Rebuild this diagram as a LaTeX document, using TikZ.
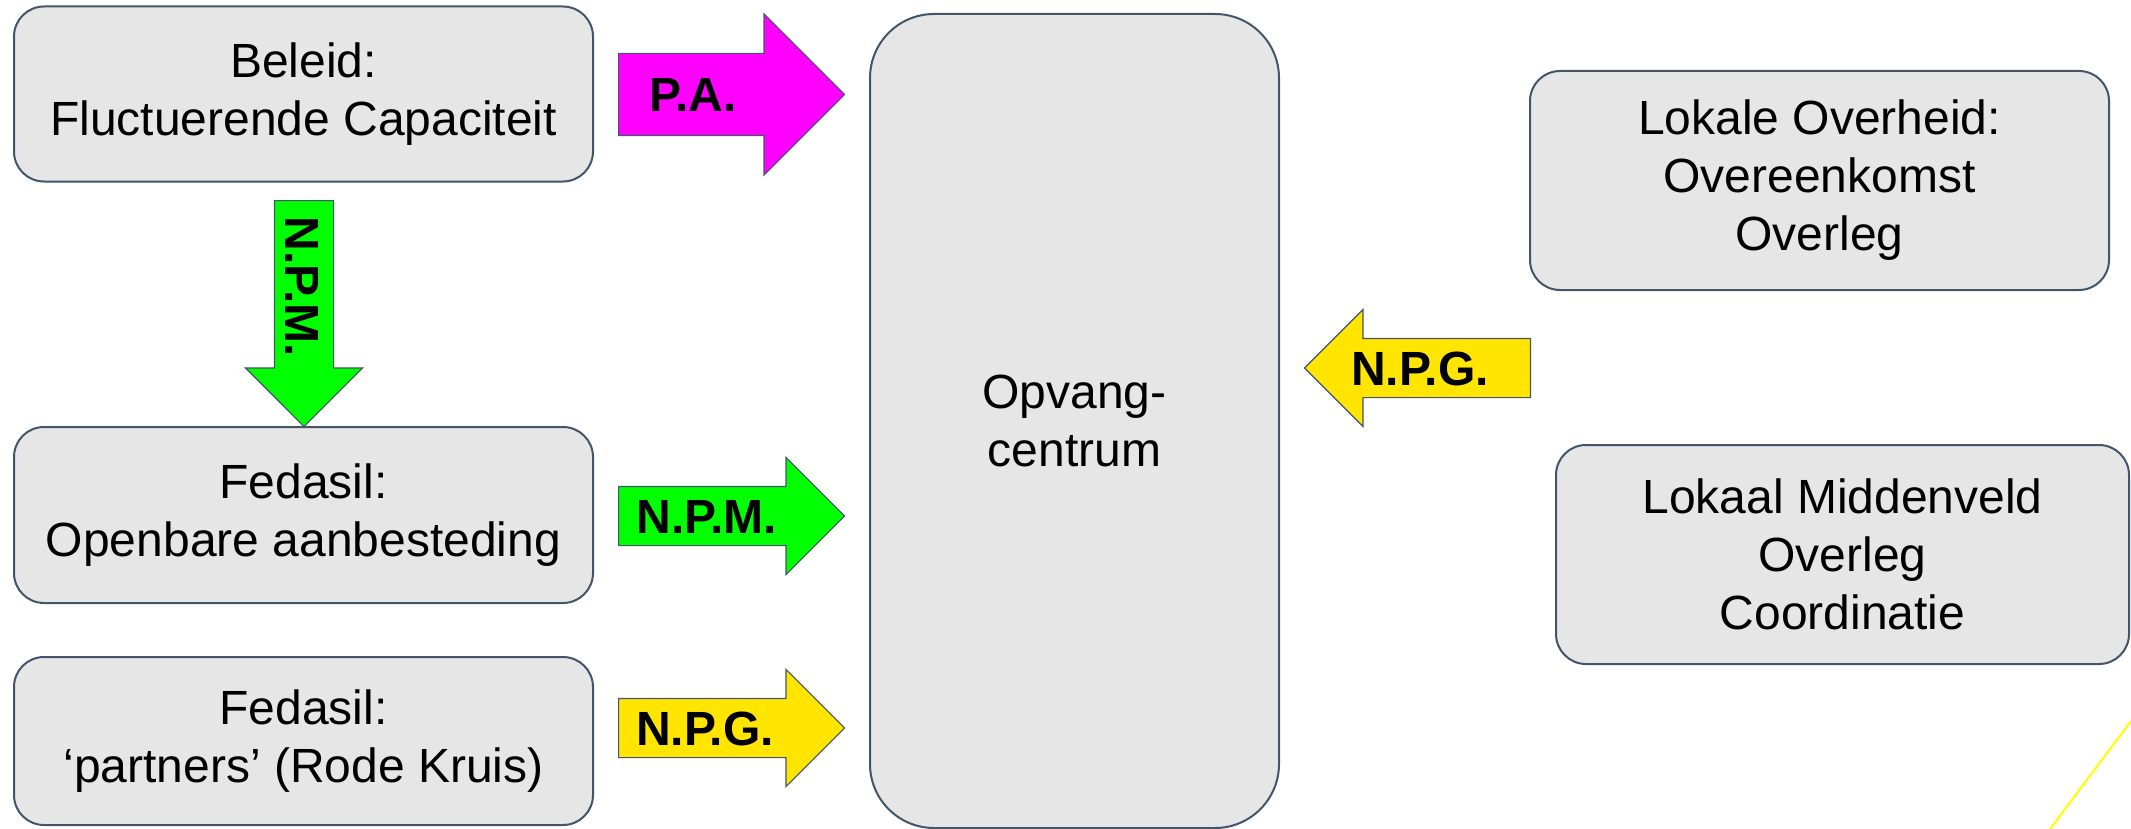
\documentclass[tikz,border=0pt]{standalone}
\usepackage{fontspec}
\setmainfont{Liberation Sans}
\usetikzlibrary{shapes.arrows,positioning}

\definecolor{boxfill}{HTML}{E6E6E6}
\definecolor{boxline}{HTML}{44546A}
\definecolor{pamagenta}{HTML}{FF00FF}
\definecolor{npmgreen}{HTML}{00FF00}
\definecolor{npgyellow}{HTML}{FFE500}
\definecolor{slideline}{HTML}{FFFF00}

\tikzset{
	infobox/.style={rectangle, rounded corners=15pt, draw=boxline, line width=1pt, fill=boxfill, align=center, inner sep=0pt, minimum width=289.5pt, font=\fontsize{24}{29}\selectfont},
	blockarrow/.style={single arrow, draw=boxline, line width=0.6pt, single arrow tip angle=90, minimum height=113pt, single arrow head extend=14.5pt, anchor=tail, inner sep=0pt, text height=29pt, text depth=0pt, text width=84.5pt},
	arrowlabel/.style={anchor=base, inner sep=0pt, font=\fontsize{24}{28}\selectfont\bfseries},
}

\begin{document}
\begin{tikzpicture}[x=0.5pt, y=-0.5pt]
\useasboundingbox (0,0) rectangle (2131,829);
	\node[infobox, minimum height=87.5pt] (beleid) at (303.5,94) {Beleid:\\Fluctuerende Capaciteit};
	\node[infobox, minimum height=88pt] (openbaar) at (303.5,515) {Fedasil:\\Openbare aanbesteding};
	\node[infobox, minimum height=84pt] (partners) at (303.5,741) {Fedasil:\\‘partners’ (Rode Kruis)};
	\node[infobox, rounded corners=32pt, minimum width=204.5pt, minimum height=407pt] (opvang) at (1074.5,421) {Opvang-\\centrum};
	\node[infobox, minimum height=109.5pt] (overheid) at (1819.5,180.5) {Lokale Overheid:\\Overeenkomst\\Overleg};
	\node[infobox, minimum width=286.5pt, minimum height=109.5pt] (middenveld) at (1842.5,554.5) {Lokaal Middenveld\\Overleg\\Coordinatie};
	\node[blockarrow, fill=pamagenta, text height=40.5pt, text width=73.5pt, single arrow head extend=19.75pt] (paArrow) at (618,94.5) {};
	\node[blockarrow, fill=npmgreen] (npmArrow) at (618,516) {};
	\node[blockarrow, fill=npgyellow] (npgArrow) at (618,728) {};
	\node[blockarrow, fill=npgyellow, shape border rotate=180] (npgLeftArrow) at (1531,368) {};
	\node[blockarrow, fill=npmgreen, rotate=-90] (npmDownArrow) at (304,200) {};
	\node[arrowlabel] (paLabel) at (693,112) {P.A.};
	\node[arrowlabel] (npmLabel) at (707,533) {N.P.M.};
	\node[arrowlabel] (npgLabel) at (705,745) {N.P.G.};
	\node[arrowlabel] (npgLeftLabel) at (1420,385) {N.P.G.};
	\node[arrowlabel, rotate=-90] (npmDownLabel) at (285,287) {N.P.M.};
	\draw[slideline, line width=1pt] (2131,721) -- (2050,829);
\end{tikzpicture}
\end{document}
